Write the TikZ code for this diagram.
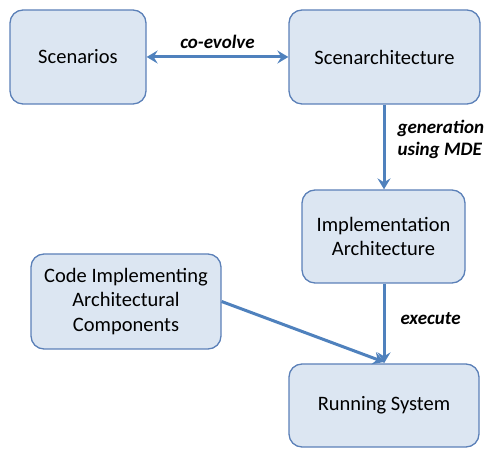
\documentclass[tikz,border=0pt]{standalone}
\usepackage{fontspec}
\setmainfont{Carlito}
\usetikzlibrary{arrows.meta}
\definecolor{boxfill}{HTML}{DCE6F2}
\definecolor{boxline}{HTML}{5B80B8}
\definecolor{arrowc}{HTML}{4F81BD}
\begin{document}
\begin{tikzpicture}[x=1pt,y=1pt,
  box/.style={draw=boxline, fill=boxfill, line width=1.3pt, rounded corners=13pt, align=center, font=\fontsize{20.5}{24.5}\selectfont, inner sep=0pt},
  conn/.style={draw=arrowc, line width=3pt, -{Stealth[length=11pt,width=13pt,inset=4pt]}},
  lbl/.style={font=\fontsize{19}{22}\selectfont\bfseries\itshape, align=left, inner sep=0pt}]
\useasboundingbox (0,0) rectangle (486,454);
\node[box, minimum width=136pt, minimum height=94pt] (scen) at (78,397) {Scenarios};
\node[box, minimum width=191pt, minimum height=94pt] (arch) at (384.5,397) {Scenarchitecture};
\node[box, minimum width=163pt, minimum height=93pt] (impl) at (383.5,217.5) {Implementation\\Architecture};
\node[box, minimum width=190pt, minimum height=95pt] (code) at (126,152.5) {Code Implementing\\Architectural\\Components};
\node[box, minimum width=190pt, minimum height=83pt] (run) at (384,48.5) {Running System};
\draw[conn, {Stealth[length=11pt,width=13pt,inset=4pt]}-{Stealth[length=11pt,width=13pt,inset=4pt]}] (scen) -- node[lbl, above=7pt] {co-evolve} (arch);
\draw[conn] (arch.south -| 384,0) -- node[lbl, right=12pt, yshift=8pt] {generation\\using MDE} (impl.north -| 384,0);
\draw[conn] (impl.south -| 384,0) -- node[lbl, right=15pt, yshift=5pt] {execute} (run.north -| 384,0);
\coordinate (runtip) at (384,92);
\draw[conn] (code.east) -- (runtip);
\end{tikzpicture}
\end{document}
